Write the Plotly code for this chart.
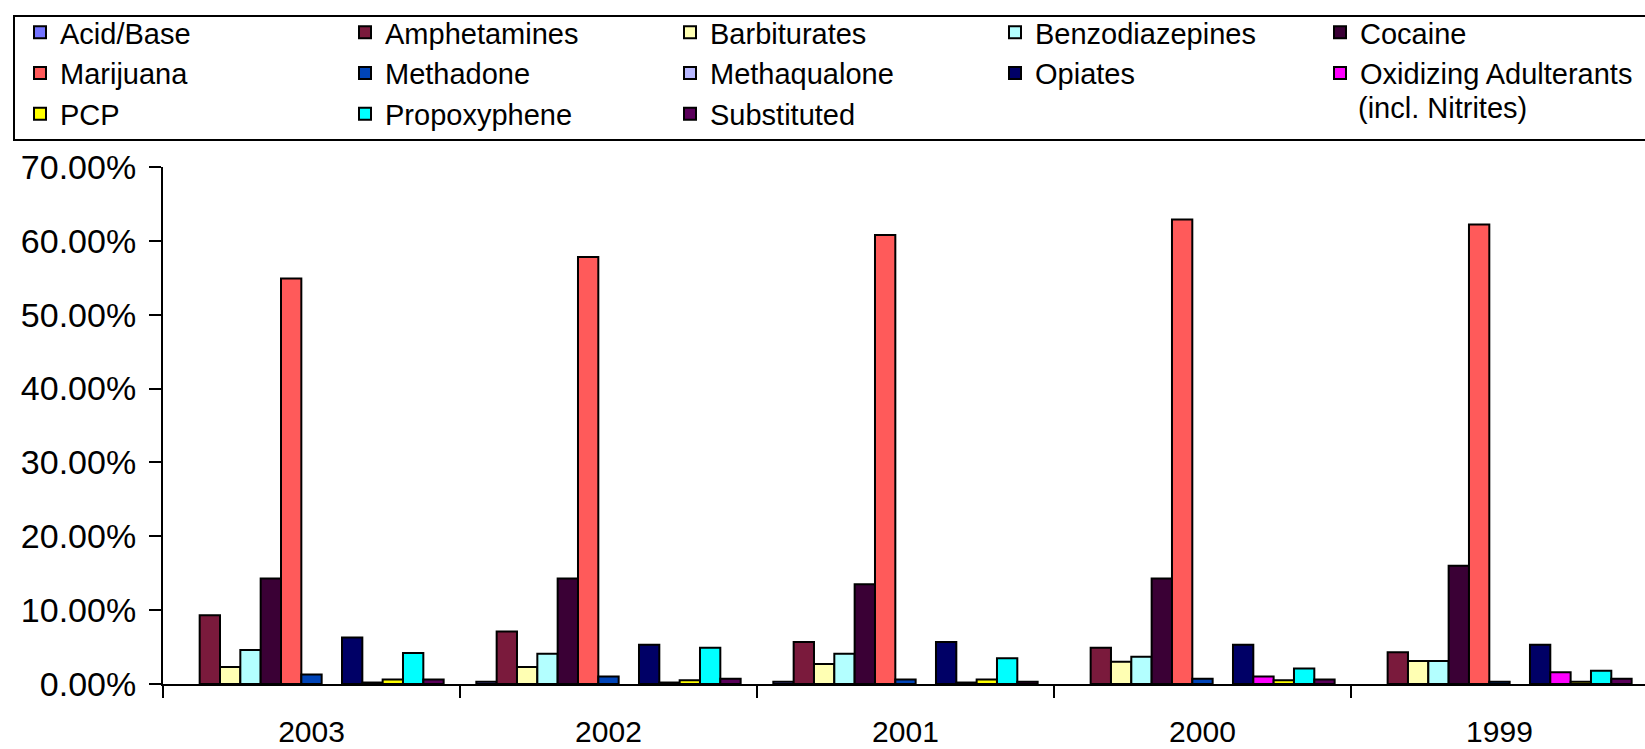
import plotly.graph_objects as go

years = ["2003", "2002", "2001", "2000", "1999"]

series_names = [
    "Acid/Base", "Amphetamines", "Barbiturates", "Benzodiazepines", "Cocaine",
    "Marijuana", "Methadone", "Methaqualone", "Opiates", "Oxidizing Adulterants",
    "PCP", "Propoxyphene", "Substituted",
]

acid_base = [None, 0.3, 0.3, None, None]
amphetamines = [9.3, 7.1, 5.7, 4.9, 4.3]
barbiturates = [2.3, 2.3, 2.7, 3.0, 3.1]
benzodiazepines = [4.6, 4.1, 4.1, 3.7, 3.1]
cocaine = [14.3, 14.3, 13.5, 14.3, 16.0]
marijuana = [54.9, 57.8, 60.8, 62.9, 62.2]
methadone = [1.3, 1.0, 0.6, 0.7, 0.3]
methaqualone = [None, None, None, None, None]
opiates = [6.3, 5.3, 5.7, 5.3, 5.3]
oxidizing = [0.2, 0.2, 0.2, 1.0, 1.6]
pcp = [0.6, 0.5, 0.6, 0.5, 0.3]
propoxyphene = [4.2, 4.9, 3.5, 2.1, 1.8]
substituted = [0.6, 0.7, 0.3, 0.6, 0.7]

series_values = [
    acid_base, amphetamines, barbiturates, benzodiazepines, cocaine,
    marijuana, methadone, methaqualone, opiates, oxidizing,
    pcp, propoxyphene, substituted,
]

colors = [
    "#7373FF", "#7A1A3C", "#FFFFB3", "#B3FFFF", "#3A0035",
    "#FF5A5A", "#0044B8", "#B8B8FF", "#000066", "#FF00FF",
    "#FFFF00", "#00FFFF", "#5A005A",
]

FONT = "Liberation Sans, Arial, sans-serif"

W, H = 1645, 749
ML, MR, MT, MB = 163, 0, 167, 65
PW, PH = W - ML - MR, H - MT - MB


def px_x(x):
    return (x - ML) / PW


def px_y(y):
    return (H - MB - y) / PH


fig = go.Figure()
for name, vals, col in zip(series_names, series_values, colors):
    fig.add_trace(go.Bar(
        x=years, y=vals, name=name,
        marker=dict(color=col, line=dict(color="black", width=2)),
    ))

fig.update_layout(
    width=W, height=H,
    margin=dict(l=ML, r=MR, t=MT, b=MB, autoexpand=False),
    paper_bgcolor="white", plot_bgcolor="white",
    barmode="group", bargap=0.11, bargroupgap=0,
    font=dict(family=FONT, color="black"),
    showlegend=True,
    legend=dict(
        orientation="h",
        xref="paper", yref="paper",
        x=px_x(20), y=px_y(7),
        xanchor="left", yanchor="top",
        borderwidth=0,
        bgcolor="rgba(0,0,0,0)",
        font=dict(family=FONT, size=29, color="black"),
        entrywidth=280, entrywidthmode="pixels",
        traceorder="normal",
    ),
    shapes=[dict(
        type="rect", xref="paper", yref="paper",
        x0=px_x(14), x1=px_x(1670), y0=px_y(140), y1=px_y(16),
        line=dict(color="black", width=2), fillcolor="rgba(0,0,0,0)",
    )],
    annotations=[dict(
        text="(incl. Nitrites)",
        xref="paper", yref="paper",
        x=px_x(1356), y=px_y(108),
        xanchor="left", yanchor="middle",
        showarrow=False,
        font=dict(family=FONT, size=29, color="black"),
    )],
)

fig.update_xaxes(
    type="category",
    range=[-0.5, 4.49],
    automargin=False,
    showline=True, linecolor="black", linewidth=2,
    ticks="outside", tickson="boundaries", ticklen=12, tickwidth=2, tickcolor="black",
    ticklabelstandoff=20,
    tickfont=dict(family=FONT, size=30, color="black"),
    showgrid=False, zeroline=False,
)

fig.update_yaxes(
    range=[0, 70], dtick=10,
    automargin=False,
    tickformat=".2f", ticksuffix="%",
    showline=True, linecolor="black", linewidth=2,
    ticks="outside", ticklen=12, tickwidth=2, tickcolor="black",
    ticklabelstandoff=6,
    tickfont=dict(family=FONT, size=34, color="black"),
    showgrid=False, zeroline=False,
)

fig.write_html(
    "out.html",
    config={"displayModeBar": False},
    post_script="document.body.style.margin='0';document.body.style.overflow='hidden';",
)
